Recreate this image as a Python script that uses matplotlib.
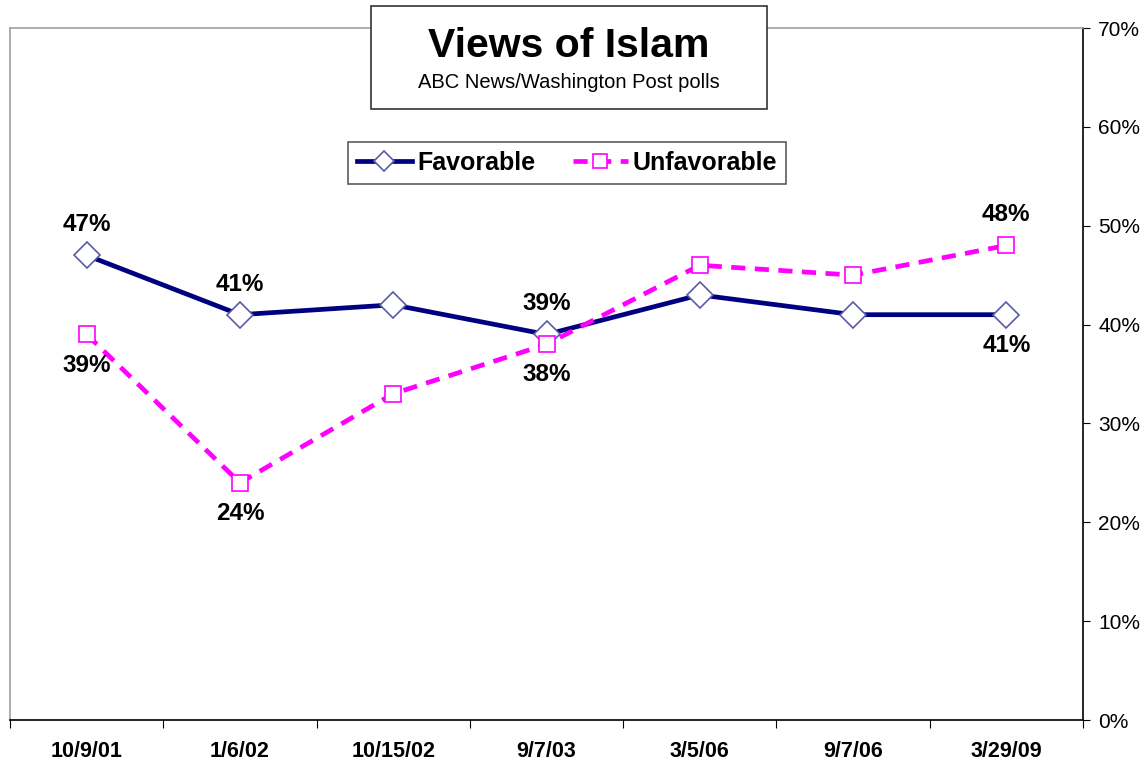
import numpy as np
import matplotlib.pyplot as plt

plt.rcParams['font.family'] = ['Liberation Sans', 'DejaVu Sans']

# Data
dates = ['10/9/01', '1/6/02', '10/15/02', '9/7/03', '3/5/06', '9/7/06', '3/29/09']
favorable = [47, 41, 42, 39, 43, 41, 41]
unfavorable = [39, 24, 33, 38, 46, 45, 48]

# which points get a value label, and where (+1 above, -1 below)
fav_labels = {0: 1, 1: 1, 3: 1, 6: -1}
unfav_labels = {0: -1, 1: -1, 3: -1, 6: 1}

x = np.arange(len(dates))

fig = plt.figure(figsize=(11.47, 7.7), dpi=100)
ax = fig.add_axes([10 / 1147, 50 / 770, 1073 / 1147, 692 / 770])

ax.plot(x, favorable, color='#000080', lw=3.4, marker='D', ms=13,
        mfc='white', mec='#5a5aa8', mew=1.2, label='Favorable', zorder=3)
ax.plot(x, unfavorable, color='#ff00ff', lw=3.4, ls=(0, (3, 2)), marker='s', ms=11.5,
        mfc='white', mec='#ff00ff', mew=1.2, label='Unfavorable', zorder=3)

for i, d in fav_labels.items():
    ax.annotate(f'{favorable[i]}%', (x[i], favorable[i]), xytext=(0, 22 * d),
                textcoords='offset points', ha='center', va='center',
                fontsize=17.5, fontweight='bold')
for i, d in unfav_labels.items():
    ax.annotate(f'{unfavorable[i]}%', (x[i], unfavorable[i]), xytext=(0, 22 * d),
                textcoords='offset points', ha='center', va='center',
                fontsize=17.5, fontweight='bold')

ax.set_xlim(-0.5, len(dates) - 0.5)
ax.set_ylim(0, 70)

# x axis: ticks between categories, labels centered
ax.set_xticks(np.arange(-0.5, len(dates), 1))
ax.set_xticklabels([])
ax.set_xticks(x, minor=True)
ax.set_xticklabels(dates, minor=True, fontsize=15.5, fontweight='bold')
ax.tick_params(axis='x', which='major', direction='out', length=6, color='black')
ax.tick_params(axis='x', which='minor', length=0, pad=15)

# right-side y axis
ax.yaxis.tick_right()
ax.set_yticks(np.arange(0, 71, 10))
ax.set_yticklabels([f'{v}%' for v in range(0, 71, 10)], fontsize=15)
ax.tick_params(axis='y', direction='out', length=5, color='black', pad=6)

for s in ['left', 'top']:
    ax.spines[s].set_color('#a0a0a0')
    ax.spines[s].set_linewidth(1.2)
for s in ['right', 'bottom']:
    ax.spines[s].set_color('black')
    ax.spines[s].set_linewidth(1.2)

# title box
fig.text(569 / 1147, 1 - 46 / 770, 'Views of Islam', ha='center', va='center',
         fontsize=29.5, fontweight='bold')
fig.text(569 / 1147, 1 - 82 / 770, 'ABC News/Washington Post polls', ha='center',
         va='center', fontsize=14.5)
fig.patches.append(plt.Rectangle((371 / 1147, 1 - 109 / 770), 396 / 1147, 103 / 770,
                                 transform=fig.transFigure, fill=True, fc='white',
                                 ec='#333333', lw=1.2, zorder=1))

leg = ax.legend(loc='center', bbox_to_anchor=((567 - 10) / 1073, (720 - 163) / 692),
                ncol=2, frameon=True, fancybox=False, edgecolor='#333333',
                prop={'size': 18, 'weight': 'bold'}, handlelength=2.2,
                handletextpad=0.2, columnspacing=1.5, borderpad=0.35)
leg.get_frame().set_linewidth(1.2)
for h in leg.legend_handles:
    h.set_markersize(10)

fig.savefig('out.png', dpi=100)
